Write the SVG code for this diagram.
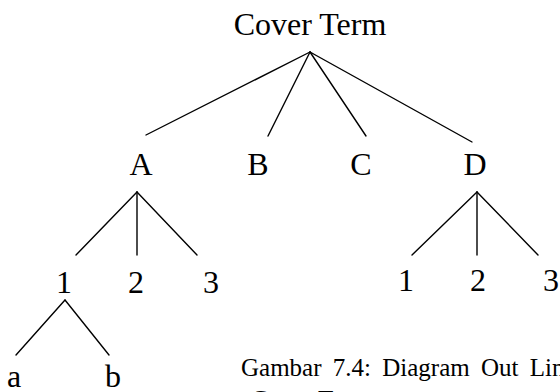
<svg xmlns="http://www.w3.org/2000/svg" width="560" height="392" viewBox="0 0 560 392" font-family="'Liberation Serif', 'DejaVu Serif', serif">
<style>
text{font-family:'Liberation Serif','DejaVu Serif',serif;fill:#000}
.n{font-size:32px;text-anchor:middle}
.cap{font-size:25px}
.c line{stroke:#000;stroke-width:1.4;stroke-linecap:round}
</style>
<rect width="560" height="392" fill="#fff"/>
<g class="c" id="connectors">
<line x1="310" y1="52" x2="146" y2="135"/>
<line x1="310" y1="52" x2="268" y2="136"/>
<line x1="310" y1="52" x2="366" y2="136"/>
<line x1="310" y1="52" x2="472" y2="142"/>
<line x1="137" y1="192" x2="76" y2="255"/>
<line x1="137" y1="192" x2="137" y2="255"/>
<line x1="137" y1="192" x2="197" y2="255"/>
<line x1="477" y1="192" x2="412" y2="255"/>
<line x1="477" y1="192" x2="477" y2="255"/>
<line x1="477" y1="192" x2="538" y2="255"/>
<line x1="65" y1="300" x2="16" y2="355"/>
<line x1="65" y1="300" x2="109" y2="355"/>
</g>
<g id="root"><text class="n" x="310" y="35">Cover Term</text></g>
<g id="A"><text class="n" x="141" y="175">A</text></g>
<g id="B"><text class="n" x="258" y="175">B</text></g>
<g id="C"><text class="n" x="361" y="175">C</text></g>
<g id="D"><text class="n" x="475" y="175">D</text></g>
<g id="A1"><text class="n" x="64" y="293">1</text></g>
<g id="A2"><text class="n" x="136" y="293">2</text></g>
<g id="A3"><text class="n" x="211" y="293">3</text></g>
<g id="D1"><text class="n" x="406" y="291">1</text></g>
<g id="D2"><text class="n" x="478" y="291">2</text></g>
<g id="D3"><text class="n" x="551" y="291">3</text></g>
<g id="a"><text class="n" x="14" y="387">a</text></g>
<g id="b"><text class="n" x="113" y="387">b</text></g>
<g id="caption"><text class="cap" x="241" y="376" word-spacing="5">Gambar 7.4: Diagram Out Line</text><text class="cap" x="251" y="408">Cover Term</text></g>
</svg>
